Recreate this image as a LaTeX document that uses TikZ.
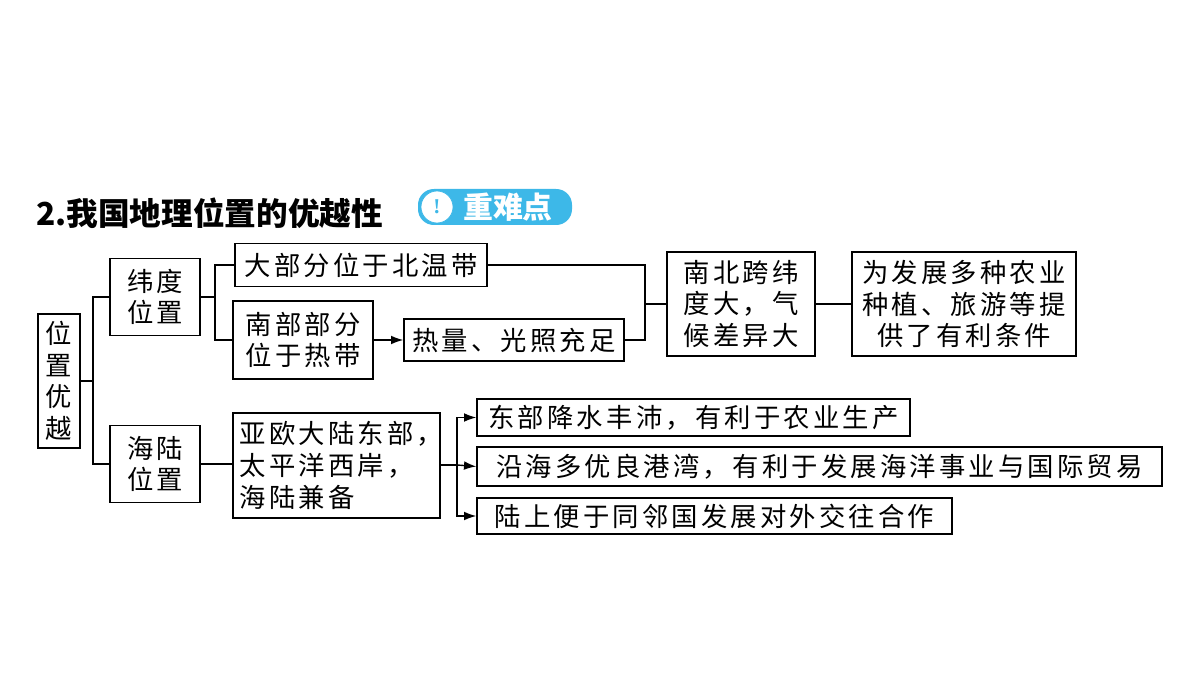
\documentclass[tikz,border=0pt]{standalone}
\usepackage{fontspec}
\setmainfont{Liberation Serif}
\newfontfamily\cjk{Noto Sans CJK SC}
\newfontfamily\cjksp[LetterSpace=12]{Noto Sans CJK SC}
\usetikzlibrary{arrows.meta}
\definecolor{badgeblue}{HTML}{3DB8E8}

\begin{document}
\begin{tikzpicture}[x=0.02cm,y=-0.02cm,
    box/.style={draw=black,thick,inner sep=0pt,font=\cjksp\fontsize{15}{18}\selectfont,align=left},
    link/.style={draw,thick},
    arr/.style={draw,thick,-{Latex[length=7pt,width=5pt]}}]
    \useasboundingbox (0,0) rectangle (1200,675);
    % title
    \node[anchor=west,inner sep=0pt,font=\cjk\bfseries\fontsize{18}{20}\selectfont] (title) at (36,213) {2.我国地理位置的优越性};
    \node[fill=badgeblue,rounded corners=9pt,minimum width=154*0.02cm,minimum height=36*0.02cm,inner sep=0pt] (badge) at (495,207) {};
    \node[circle,draw=badgeblue,fill=white,minimum size=32*0.02cm,inner sep=0pt,font=\bfseries\large\color{badgeblue}] (mark) at (437,207) {!};
    \node[font=\cjk\bfseries\fontsize{17}{18}\selectfont,text=white,inner sep=0pt] (badgetext) at (508,207) {重难点};
    % boxes
    \node[box,minimum width=42*0.02cm,minimum height=134*0.02cm,align=center] (root) at (59,381) {位\\置\\优\\越};
    \node[box,minimum width=90*0.02cm,minimum height=77*0.02cm,align=center] (lat) at (155,297) {纬度\\位置};
    \node[box,minimum width=90*0.02cm,minimum height=77*0.02cm,align=center] (sea) at (155,464) {海陆\\位置};
    \node[box,minimum width=252*0.02cm,minimum height=43*0.02cm] (north) at (361,265) {大部分位于北温带};
    \node[box,minimum width=140*0.02cm,minimum height=78*0.02cm,align=center] (south) at (303,340) {南部部分\\位于热带};
    \node[box,minimum width=220*0.02cm,minimum height=42*0.02cm] (heat) at (514,340) {热量、光照充足};
    \node[box,minimum width=148*0.02cm,minimum height=104*0.02cm,align=center] (span) at (741,304) {南北跨纬\\度大，气\\候差异大};
    \node[box,minimum width=224*0.02cm,minimum height=104*0.02cm,align=center] (agri) at (964,304) {为发展多种农业\\种植、旅游等提\\供了有利条件};
    \node[box,minimum width=207*0.02cm,minimum height=105*0.02cm,text width=110pt,align=left] (eur) at (336.5,465.5) {亚欧大陆东部，\\太平洋西岸，\\海陆兼备};
    \node[box,minimum width=433*0.02cm,minimum height=37*0.02cm] (rain) at (693.5,417.5) {东部降水丰沛，有利于农业生产};
    \node[box,minimum width=685*0.02cm,minimum height=39*0.02cm] (coast) at (819.5,466.5) {沿海多优良港湾，有利于发展海洋事业与国际贸易};
    \node[box,minimum width=475*0.02cm,minimum height=36*0.02cm] (land) at (714.5,516) {陆上便于同邻国发展对外交往合作};
    % junctions
    \coordinate (j1) at (93,381);
    \coordinate (j2) at (215,297);
    \coordinate (j3) at (645,304);
    \coordinate (j4) at (457,465);
    % connectors
    \path[link] (root.east) -- (j1) |- (lat.west);
    \path[link] (j1) |- (sea.west);
    \path[link] (lat.east) -- (j2) |- (north.west);
    \path[link] (j2) |- (south.west);
    \path[arr] (south.east) -- (heat.west);
    \path[link] (north.east) -| (j3);
    \path[link] (heat.east) -| (j3);
    \path[link] (j3) -- (span.west);
    \path[link] (span.east) -- (agri.west);
    \path[link] (sea.east) -- (sea.east -| eur.west);
    \path[link] (eur.east |- j4) -- (j4);
    \path[arr] (j4) |- (rain.west);
    \path[arr] (j4) -- (coast.west);
    \path[arr] (j4) |- (land.west);
\end{tikzpicture}
\end{document}
